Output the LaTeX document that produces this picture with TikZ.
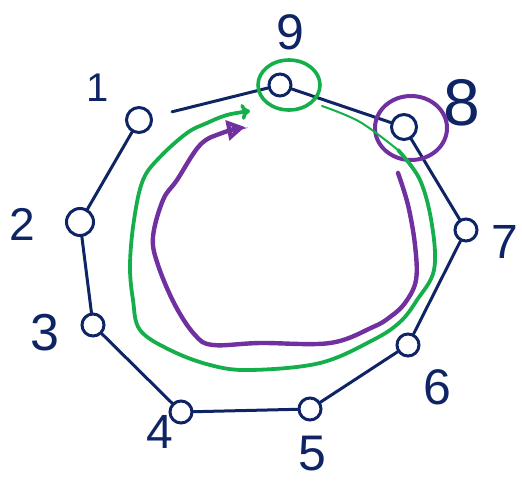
\documentclass[tikz,border=0pt]{standalone}
\usepackage{fontspec}
\setmainfont{Liberation Sans}
\usetikzlibrary{arrows.meta,shapes.geometric}
\definecolor{navy}{RGB}{14,36,100}
\definecolor{gr}{RGB}{20,175,75}
\definecolor{pu}{RGB}{112,48,160}
\tikzset{
  vert/.style={circle,draw=navy,line width=3pt,minimum size=22pt,inner sep=0pt},
  edge/.style={draw=navy,line width=3pt,line cap=round},
  lab/.style={text=navy,inner sep=0pt},
  greenloop/.style={draw=gr,line width=3.8pt,line cap=round},
  purpleloop/.style={draw=pu,line width=4.4pt,line cap=round},
  hl/.style={draw,line width=3.6pt,ellipse}
}
\begin{document}
\begin{tikzpicture}[x=1pt,y=-1pt]
\useasboundingbox (0,0) rectangle (522,485);
% vertices
\node[vert] (n9) at (280,85) {};
\node[vert,minimum size=25pt] (n1) at (139,120) {};
\node[vert,minimum size=27pt] (n2) at (80,222) {};
\node[vert] (n3) at (93,325) {};
\node[vert] (n4) at (181,412) {};
\node[vert] (n5) at (310,409) {};
\node[vert] (n6) at (408,345) {};
\node[vert] (n7) at (466,230) {};
\node[vert,minimum size=25pt] (n8) at (404,127) {};
% edges
\draw[edge,shorten <=20pt] (n1) -- (n9);
\draw[edge] (n9) -- (n8);
\draw[edge] (n8) -- (n7);
\draw[edge] (n7) -- (n6);
\draw[edge] (n6) -- (n5);
\draw[edge] (n5) -- (n4);
\draw[edge] (n4) -- (n3);
\draw[edge] (n3) -- (n2);
\draw[edge] (n2) -- (n1);
% labels
\node[lab,font=\fontsize{50}{50}\selectfont] (l9) at (290,32) {9};
\node[lab,font=\fontsize{40}{40}\selectfont] (l1) at (98,88) {1};
\node[lab,font=\fontsize{46}{46}\selectfont] (l2) at (22,224) {2};
\node[lab,font=\fontsize{52}{52}\selectfont] (l3) at (45,333) {3};
\node[lab,font=\fontsize{48}{48}\selectfont] (l4) at (160,432) {4};
\node[lab,font=\fontsize{50}{50}\selectfont] (l5) at (312,454) {5};
\node[lab,font=\fontsize{50}{50}\selectfont] (l6) at (437,387) {6};
\node[lab,font=\fontsize{48}{48}\selectfont] (l7) at (505,242) {7};
\node[lab,font=\fontsize{66}{66}\selectfont] (l8) at (462,103) {8};
% highlight circles
\node[hl,draw=gr,minimum width=62pt,minimum height=50pt] (g9) at (289,85) {};
\node[hl,draw=pu,line width=4pt,minimum width=72pt,minimum height=64pt] (p8) at (411,128) {};
% green loop
\draw[gr,line width=2pt,line cap=round] plot[smooth,tension=0.6] coordinates {(322,106) (360,122) (398,150)};
\draw[greenloop,-{To[length=9pt,width=16pt,line width=3.6pt]}] plot[smooth,tension=0.6] coordinates {
 (398,150) (420,180) (432,225) (434,270) (417,300) (400,322) (373,340) (320,363) (250,370)
 (210,365) (170,350) (140,330) (133,300) (130,265) (134,220) (143,180) (160,157) (187,133)
 (207,123) (227,115) (250,111)};
% purple loop
\draw[purpleloop,-{Triangle[open,length=18pt,width=20pt,line width=4pt]}] plot[smooth,tension=0.6] coordinates {
 (398,173) (408,205) (415,245) (416,280) (405,303) (390,317) (373,327) (330,343) (260,343)
 (213,345) (195,335) (175,305) (158,265) (153,237) (163,200) (177,180) (200,145)
 (222,133) (245,127)};
\end{tikzpicture}
\end{document}
